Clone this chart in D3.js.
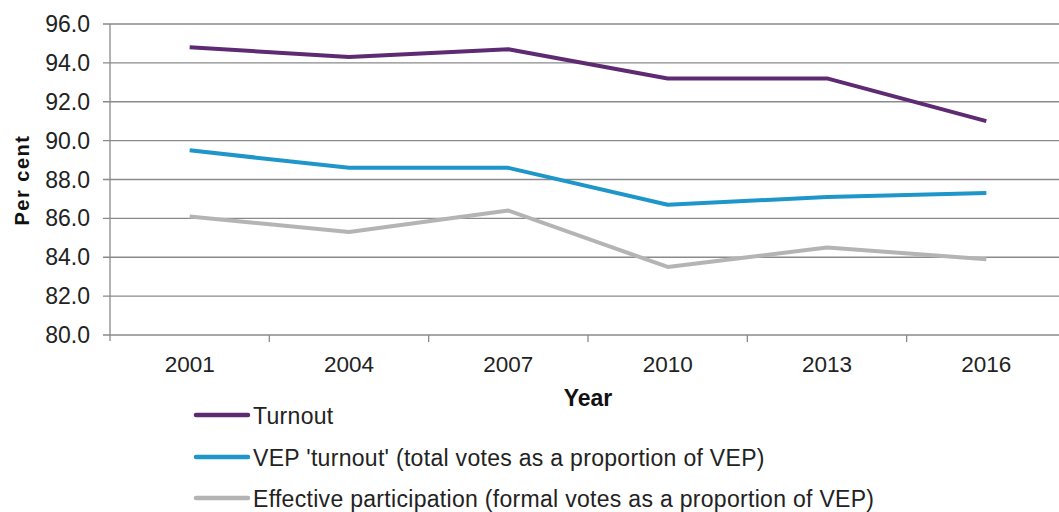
<!DOCTYPE html>
<html>
<head>
<meta charset="utf-8">
<script src="https://cdn.jsdelivr.net/npm/d3@7"></script>
<style>
  body { margin: 0; background: #fff; }
  svg { display: block; font-family: Arial, "Liberation Sans", sans-serif; }
</style>
</head>
<body>
<svg id="chart" width="1059" height="512"></svg>
<script>
const years = ["2001", "2004", "2007", "2010", "2013", "2016"];
const turnout = [94.8, 94.3, 94.7, 93.2, 93.2, 91.0];
const vepTurnout = [89.5, 88.6, 88.6, 86.7, 87.1, 87.3];
const effective = [86.1, 85.3, 86.4, 83.5, 84.5, 83.9];
const yTicks = [80, 82, 84, 86, 88, 90, 92, 94, 96];
const seriesNames = [
    "Turnout",
    "VEP 'turnout' (total votes as a proportion of VEP)",
    "Effective participation (formal votes as a proportion of VEP)"
];
const seriesColors = ["#5e2a72", "#1e96ca", "#b4b4b4"];

const series = [turnout, vepTurnout, effective].map((values, i) => ({
    name: seriesNames[i],
    color: seriesColors[i],
    values: values.map((v, j) => ({ year: years[j], value: v }))
}));

const svg = d3.select("#chart");
const plotLeft = 110, plotRight = 1066, plotTop = 24, plotBottom = 335;

const x = d3.scaleBand().domain(years).range([plotLeft, plotRight]);
const y = d3.scaleLinear().domain([80, 96]).range([plotBottom, plotTop]);

// gridlines
svg.append("g").selectAll("line")
    .data(yTicks).enter().append("line")
    .attr("x1", plotLeft - 7).attr("x2", 1059)
    .attr("y1", d => y(d)).attr("y2", d => y(d))
    .attr("stroke", "#8a8a8a").attr("stroke-width", 1.3);

// y axis line
svg.append("line")
    .attr("x1", plotLeft).attr("x2", plotLeft)
    .attr("y1", plotTop).attr("y2", plotBottom + 6)
    .attr("stroke", "#8a8a8a").attr("stroke-width", 1.3);

// x ticks between categories
svg.append("g").selectAll("line")
    .data(years.slice(1)).enter().append("line")
    .attr("x1", d => x(d)).attr("x2", d => x(d))
    .attr("y1", plotBottom).attr("y2", plotBottom + 7)
    .attr("stroke", "#8a8a8a").attr("stroke-width", 1.3);

// y tick labels
svg.append("g").selectAll("text")
    .data(yTicks).enter().append("text")
    .attr("x", 90).attr("y", d => y(d) + 8)
    .attr("text-anchor", "end")
    .attr("font-size", 23).attr("fill", "#222")
    .text(d => d.toFixed(1));

// x tick labels
svg.append("g").selectAll("text")
    .data(years).enter().append("text")
    .attr("x", d => x(d) + x.bandwidth() / 2).attr("y", 372)
    .attr("text-anchor", "middle")
    .attr("font-size", 22.5).attr("fill", "#222")
    .text(d => d);

// axis titles
svg.append("text")
    .attr("x", 588).attr("y", 406)
    .attr("text-anchor", "middle")
    .attr("font-size", 23).attr("font-weight", "bold").attr("fill", "#111")
    .text("Year");

svg.append("text")
    .attr("transform", "translate(29,180) rotate(-90)")
    .attr("text-anchor", "middle")
    .attr("font-size", 20).attr("font-weight", "bold").attr("fill", "#111")
    .attr("letter-spacing", 1.5)
    .text("Per cent");

// lines
const line = d3.line()
    .x(d => x(d.year) + x.bandwidth() / 2)
    .y(d => y(d.value));

svg.append("g").selectAll("path")
    .data(series).enter().append("path")
    .attr("d", d => line(d.values))
    .attr("fill", "none")
    .attr("stroke", d => d.color)
    .attr("stroke-width", 4)
    .attr("stroke-linejoin", "round");

// legend
const legendY = [415, 457, 498];
const legend = svg.append("g").selectAll("g")
    .data(series).enter().append("g")
    .attr("transform", (d, i) => `translate(0,${legendY[i]})`);

legend.append("line")
    .attr("x1", 196).attr("x2", 248)
    .attr("stroke", d => d.color)
    .attr("stroke-width", 4.5)
    .attr("stroke-linecap", "round");

legend.append("text")
    .attr("x", 253).attr("y", 8.5)
    .attr("font-size", 23).attr("fill", "#222")
    .attr("letter-spacing", 0.3)
    .text(d => d.name);
</script>
</body>
</html>
